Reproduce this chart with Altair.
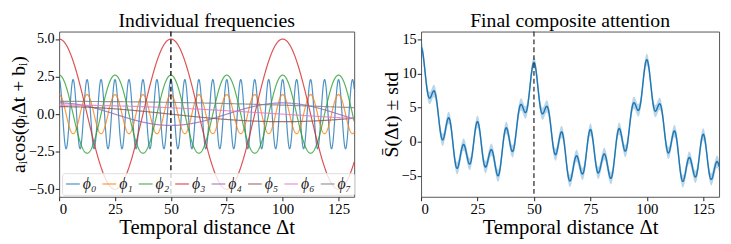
import numpy as np
import pandas as pd
import altair as alt

# ---- values ----
series = ["ϕ₀", "ϕ₁", "ϕ₂", "ϕ₃", "ϕ₄", "ϕ₅", "ϕ₆", "ϕ₇"]
amplitudes = [2.3, 1.3, 2.6, 5.0, 0.75, 0.5, 0.6, 0.85]   # a_i
periods = [6.25, 12.5, 25.0, 50.0, 100.0, 200.0, 400.0, 800.0]  # 2*pi/phi_i
phases = [0.0, 0.0, 0.0, 0.0, 0.0, 0.0, 0.0, 0.0]          # b_i
colors = ["#1f77b4", "#ff7f0e", "#2ca02c", "#d62728",
          "#9467bd", "#8c564b", "#e377c2", "#7f7f7f"]
std_band = 0.9
marker_t = [50]
t_max = 132
x_ticks = [0, 25, 50, 75, 100, 125]
y_ticks_left = [-5.0, -2.5, 0.0, 2.5, 5.0]
y_ticks_right = [-5, 0, 5, 10, 15]

# ---- build tables ----
t = np.round(np.arange(0, t_max + 0.001, 0.1), 3)
rows = []
total = np.zeros_like(t)
for name, a, p, b in zip(series, amplitudes, periods, phases):
    v = a * np.cos(2 * np.pi / p * t + b)
    total += v
    rows.append(pd.DataFrame({"t": t, "v": v, "s": name}))
comp = pd.concat(rows, ignore_index=True)
agg = pd.DataFrame({"t": t, "m": total, "lo": total - std_band, "hi": total + std_band})
rule_df = pd.DataFrame({"t": marker_t})

FONT = "Liberation Serif"
W_L, W_R, H = 300, 303, 168

AXX = dict(labelFont=FONT, labelFontSize=15, labelColor="black", labelPadding=1,
           titleFont=FONT, titleFontSize=21, titleFontWeight="normal", titleColor="black",
           titlePadding=0, domain=False, grid=False, tickColor="#222222", tickSize=4)
AXY = dict(AXX, labelFontSize=14.5, titleFontSize=20)

xenc = alt.X("t:Q", scale=alt.Scale(domain=[0, t_max], nice=False, zero=False),
             axis=alt.Axis(values=x_ticks, title="Temporal distance Δt", format="d", **AXX))

left_lines = alt.Chart(comp).mark_line(strokeWidth=1.2, opacity=0.8).encode(
    x=xenc,
    y=alt.Y("v:Q", scale=alt.Scale(domain=[-5.5, 5.5], nice=False),
            axis=alt.Axis(values=y_ticks_left, format=".1f",
                          title="aᵢcos(ϕᵢΔt + bᵢ)", **AXY)),
    color=alt.Color("s:N", scale=alt.Scale(domain=series, range=colors),
                    legend=alt.Legend(
                        title=None, orient="none", legendX=3, legendY=144,
                        direction="horizontal", columns=8, symbolType="stroke",
                        symbolSize=196, symbolStrokeWidth=1.2, symbolOpacity=0.8,
                        labelFont=FONT, labelFontSize=16, labelFontStyle="italic",
                        labelColor="#222222",
                        labelOffset=2, columnPadding=3, padding=3,
                        fillColor="rgba(255,255,255,0.8)", strokeColor="#dddddd",
                        cornerRadius=2)),
    detail="s:N",
)
rule_l = alt.Chart(rule_df).mark_rule(color="black", strokeDash=[5, 3], strokeWidth=1.3).encode(x="t:Q")
left = alt.layer(left_lines, rule_l).properties(
    width=W_L, height=H,
    title=alt.TitleParams("Individual frequencies", font=FONT, fontSize=20,
                          fontWeight="normal", offset=0))

band = alt.Chart(agg).mark_area(color="#1f77b4", opacity=0.3).encode(
    x=xenc,
    y=alt.Y("lo:Q", scale=alt.Scale(domain=[-8.1, 16.2], nice=False),
            axis=alt.Axis(values=y_ticks_right, format="d", title="S̄(Δt) ± std", **AXY)),
    y2="hi:Q")
line_r = alt.Chart(agg).mark_line(color="#1f77b4", strokeWidth=1.5).encode(x="t:Q", y="m:Q")
rule_r = alt.Chart(rule_df).mark_rule(color="#333333", strokeDash=[5, 3], strokeWidth=1.3).encode(x="t:Q")
right = alt.layer(band, line_r, rule_r).properties(
    width=W_R, height=H,
    title=alt.TitleParams("Final composite attention", font=FONT, fontSize=20,
                          fontWeight="normal", offset=0))

chart = alt.hconcat(left, right, spacing=24).properties(
    padding={"left": 0, "top": 0, "right": 0, "bottom": 0}
).configure_view(stroke="#555555", strokeWidth=1).configure_axisY(labelBaseline="middle")

chart.save("out.html", embed_options={"renderer": "svg", "actions": False})
